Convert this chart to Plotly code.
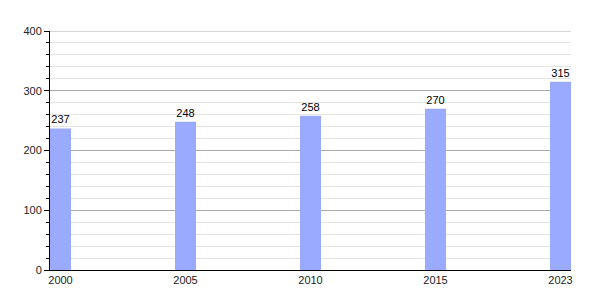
import plotly.graph_objects as go

years = ["2000", "2005", "2010", "2015", "2023"]
values = [237, 248, 258, 270, 315]
y_max = 400

pos = list(range(len(years)))
fig = go.Figure(go.Bar(
    x=pos, y=values, width=0.168,
    marker=dict(color="#99aaff", line=dict(width=0)),
    text=[str(v) for v in values], textposition="outside",
    textfont=dict(size=11, color="#000", family="Liberation Sans, Arial, sans-serif"),
    cliponaxis=False,
))
fig.add_shape(type="line", xref="paper", x0=0, x1=1, yref="y", y0=y_max, y1=y_max,
              line=dict(color="#aaaaaa", width=1), layer="below")
fig.update_layout(
    width=600, height=300,
    margin=dict(l=50, r=29, t=31, b=30),
    paper_bgcolor="white", plot_bgcolor="white",
    showlegend=False,
    font=dict(family="Liberation Sans, Arial, sans-serif", size=11, color="#222"),
    xaxis=dict(
        tickmode="array", tickvals=pos, ticktext=years,
        range=[-0.084, 4.084], showgrid=False, zeroline=False,
        showline=True, linecolor="#000", linewidth=1, ticks="", ticklen=0,
        tickfont=dict(size=11, color="#222"),
    ),
    yaxis=dict(
        range=[0, y_max], tick0=0, dtick=100, showgrid=True,
        gridcolor="#aaaaaa", gridwidth=1, zeroline=False,
        showline=True, linecolor="#000", linewidth=1,
        ticks="outside", ticklen=5, tickcolor="#000",
        tickfont=dict(size=11, color="#222"),
        minor=dict(dtick=20, showgrid=True, gridcolor="#e4e4e4", gridwidth=1,
                   ticks="outside", ticklen=3, tickcolor="#000"),
    ),
)
fig.write_html("out.html")
